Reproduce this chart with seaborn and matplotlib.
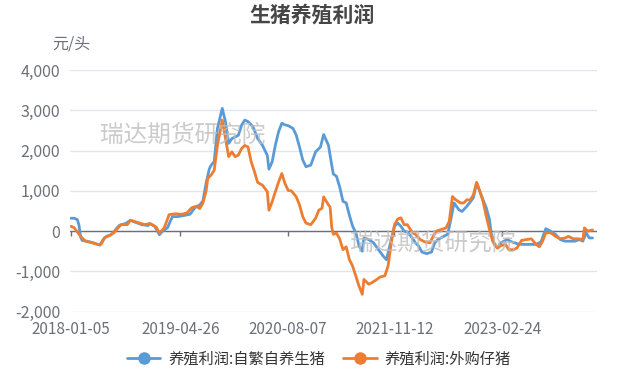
import pandas as pd
import matplotlib
matplotlib.use("Agg")
import matplotlib.pyplot as plt
import matplotlib.ticker as mticker
from matplotlib.lines import Line2D
import seaborn as sns

sns.set_theme(style="white")
plt.rcParams['font.family'] = ['Noto Sans CJK SC', 'DejaVu Sans']

# Weekly data, week index counted from 2018-01-05
start_date = pd.Timestamp("2018-01-05")

self_weeks = [0, 2, 4, 5, 6, 7, 10, 14, 18, 20, 22, 25, 27, 30, 34, 37, 40, 44, 48, 49,
              52, 55, 57, 60, 63, 66, 70, 74, 77, 80, 82, 84, 86, 87, 89, 91, 94, 96, 98, 100,
              102, 104, 106, 108, 110, 113, 116, 119, 122, 123, 125, 127, 129, 131, 133, 135,
              138, 140, 142, 144, 146, 149, 152, 155, 157, 160, 162, 163, 165, 167, 169, 171,
              173, 175, 177, 179, 181, 182, 185, 188, 191, 194, 196, 197, 199, 201, 203, 205,
              207, 209, 212, 214, 216, 218, 221, 224, 226, 228, 231, 234, 236, 238, 241, 243,
              246, 248, 250, 252, 254, 256, 258, 260, 261, 263, 265, 267, 271, 274, 277, 280,
              283, 286, 289, 292, 295, 298, 301, 304, 307, 310, 313, 316, 318, 320, 322, 324]
self_profit = [320, 320, 285, 150, -150, -230, -250, -290, -350, -210, -130, -90, 0, 140, 190, 270, 220, 160, 140, 190,
               120, -90, 0, 85, 360, 360, 385, 420, 580, 650, 750, 1200, 1550, 1630, 1730, 2550, 3050, 2720, 2180, 2300,
               2340, 2380, 2630, 2760, 2720, 2600, 2300, 2130, 1880, 1540, 1720, 2140, 2470, 2680, 2640, 2620,
               2550, 2380, 2090, 1770, 1600, 1640, 1970, 2090, 2400, 2130, 1640, 1420, 1360, 1090, 740, 700,
               390, 120, -40, -370, -500, -170, -210, -290, -460, -620, -710, -540, -210, 120, 200, 120,
               0, -20, -170, -290, -370, -520, -560, -520, -290, -210, -140, -80, 290, 700, 530, 490,
               620, 720, 830, 1200, 990, 780, 580, 290, -40, -330, -420, -290, -210, -270, -310, -330,
               -330, -330, -330, -270, 60, 0, -80, -210, -250, -250, -250, -210, -250, -40, -170, -170]

bought_weeks = [0, 2, 6, 9, 13, 17, 19, 21, 24, 27, 31, 35, 37, 41, 46, 49, 53, 55, 58, 61,
                65, 69, 72, 75, 78, 80, 82, 84, 85, 87, 89, 91, 94, 96, 98, 100, 102, 104, 106, 108,
                110, 112, 114, 116, 119, 122, 123, 125, 127, 129, 131, 133, 135, 137, 140, 142, 144,
                146, 149, 152, 154, 156, 157, 160, 161, 162, 163, 165, 167, 169, 171, 173, 175, 177,
                179, 181, 182, 185, 187, 190, 192, 195, 197, 199, 201, 203, 205, 207, 209, 212, 214,
                217, 220, 223, 225, 227, 230, 233, 235, 237, 239, 242, 244, 246, 248, 250, 252, 254,
                256, 258, 260, 262, 265, 267, 270, 272, 275, 277, 280, 283, 286, 289, 291, 293, 295,
                298, 301, 304, 307, 309, 312, 315, 318, 319, 321, 324]
bought_profit = [120, 85, -130, -250, -290, -335, -310, -160, -110, -30, 160, 160, 270, 220, 160, 190, 100, -50, 85, 410,
                 430, 420, 450, 580, 620, 560, 700, 1000, 1310, 1390, 1510, 2130, 2760, 2300, 1850, 1970, 1850, 1890, 2050, 2130,
                 2090, 1720, 1480, 1210, 1140, 980, 520, 730, 980, 1220, 1430, 1180, 1010, 1000, 850, 650, 360,
                 200, 160, 320, 520, 570, 850, 650, 600, 100, -80, -50, -200, -460, -390, -710, -870, -1120,
                 -1370, -1570, -1200, -1320, -1280, -1200, -1140, -1110, -870, -290, 160, 300, 330, 160, 160, -30, -80,
                 -210, -270, -290, -130, 0, 40, 80, 240, 860, 780, 700, 700, 780, 770, 900, 1210, 990,
                 740, 370, 40, -250, -420, -360, -330, -460, -460, -420, -230, -210, -190, -330, -390, -250, -40,
                 -40, -130, -190, -170, -130, -190, -190, -210, 80, 0, 30]

series_names = ["养殖利润:自繁自养生猪", "养殖利润:外购仔猪"]
series_colors = ["#5B9BD5", "#ED7D31"]
tick_dates = ["2018-01-05", "2019-04-26", "2020-08-07", "2021-11-12", "2023-02-24"]

df = pd.concat([
    pd.DataFrame({"week": self_weeks, "profit": self_profit, "series": series_names[0]}),
    pd.DataFrame({"week": bought_weeks, "profit": bought_profit, "series": series_names[1]}),
])
df["date"] = start_date + pd.to_timedelta(df["week"] * 7, unit="D")

fig = plt.figure(figsize=(6.25, 3.75), dpi=100)
ax = fig.add_axes([0.112, 0.169, 0.843, 0.644])

# watermarks
wm_kw = dict(fontsize=17, color="#BEBEBE", alpha=0.8, ha="center", va="center", zorder=0)
fig.text(0.293, 0.64, "瑞达期货研究院", **wm_kw)
fig.text(0.692, 0.352, "瑞达期货研究院", **wm_kw)

sns.lineplot(data=df, x="date", y="profit", hue="series", palette=series_colors,
             hue_order=series_names, linewidth=2.0, legend=False, ax=ax, zorder=3)

ax.set_ylim(-2000, 4000)
ax.set_xlim(start_date - pd.Timedelta(days=4), start_date + pd.Timedelta(days=2287))
ax.set_yticks(range(-2000, 4001, 1000))
ax.yaxis.set_major_formatter(mticker.FuncFormatter(lambda v, p: f"{int(v):,}"))
ticks = pd.to_datetime(tick_dates)
ax.set_xticks(ticks)
ax.set_xticklabels(tick_dates)
ax.grid(axis="y", color="#E0E6F1", linewidth=1)
ax.grid(axis="x", visible=False)
for s in ax.spines.values():
    s.set_visible(False)
ax.tick_params(axis="both", length=0, colors="#6E7079", labelsize=11.5)
ax.tick_params(axis="x", pad=7, labelsize=11)
ax.tick_params(axis="y", pad=7)
ax.set_xlabel("")
ax.set_ylabel("")

# zero axis line with category ticks
ax.axhline(0, color="#6E7079", linewidth=1, zorder=2)
ax.vlines(ticks, -125, 0, color="#6E7079", linewidth=1, zorder=2)

fig.text(0.5, 0.96, "生猪养殖利润", ha="center", va="center", fontsize=15,
         fontweight="bold", color="#464646")
fig.text(0.114, 0.883, "元/头", ha="center", va="center", fontsize=11.5, color="#6E7079")

handles = [Line2D([0], [0], color=c, linewidth=2, marker="o", markersize=8) for c in series_colors]
fig.legend(handles, series_names, loc="center", bbox_to_anchor=(0.51, 0.042), ncol=2,
           frameon=False, fontsize=11, handlelength=2.2, columnspacing=1.2,
           handletextpad=0.5, labelcolor="#333333")

fig.savefig("out.png", dpi=100)
